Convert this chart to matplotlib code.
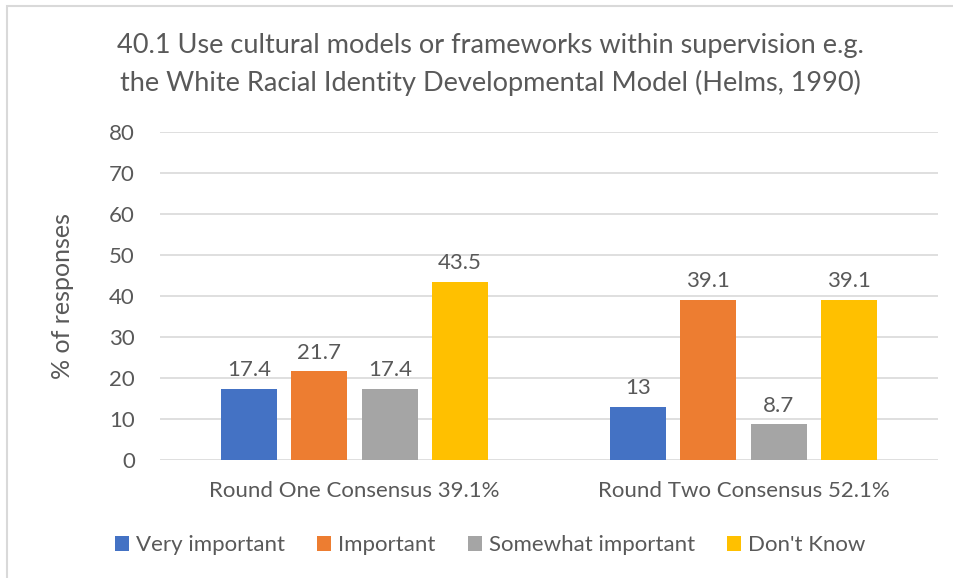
import matplotlib
matplotlib.use("Agg")
import matplotlib.pyplot as plt
from matplotlib.patches import Rectangle, Patch
import numpy as np

plt.rcParams['font.family'] = ['Lato', 'DejaVu Sans']

categories = ["Round One Consensus 39.1%", "Round Two Consensus 52.1%"]
series_names = ["Very important", "Important", "Somewhat important", "Don't Know"]
very_important = [17.4, 13]
important = [21.7, 39.1]
somewhat_important = [17.4, 8.7]
dont_know = [43.5, 39.1]
series_values = [very_important, important, somewhat_important, dont_know]
colors = ["#4472C4", "#ED7D31", "#A5A5A5", "#FFC000"]
yticks = [0, 10, 20, 30, 40, 50, 60, 70, 80]

text_color = "#595959"
W, H = 954, 578
fig = plt.figure(figsize=(W / 100, H / 100), dpi=100)

# outer chart border
fig.add_artist(Rectangle((7 / W, -0.1), 1.2, 1 - 6 / H + 0.1, transform=fig.transFigure,
                         fill=False, edgecolor="#D9D9D9", linewidth=1.5))

ax = fig.add_axes([160 / W, 1 - 460 / H, (938 - 160) / W, (460 - 132) / H])
x = np.arange(len(categories))
width = 0.144
step = 0.181
offsets = (np.arange(len(series_names)) - 1.5) * step
for vals, name, col, off in zip(series_values, series_names, colors, offsets):
    bars = ax.bar(x + off, vals, width, color=col, label=name, zorder=3)
    for b, v in zip(bars, vals):
        ax.annotate(f"{v:g}", (b.get_x() + b.get_width() / 2, v), xytext=(0, 6),
                    textcoords="offset points", ha="center", va="bottom",
                    fontsize=16, color=text_color)

ax.set_xlim(-0.5, 1.5)
ax.set_ylim(0, 80)
ax.set_yticks(yticks)
ax.yaxis.grid(True, color="#D9D9D9", linewidth=1.2, zorder=0)
for s in ax.spines.values():
    s.set_visible(False)
ax.tick_params(axis="both", length=0, labelsize=16, labelcolor=text_color)
ax.tick_params(axis="y", pad=18)
ax.tick_params(axis="x", pad=15)
ax.set_xticks(x)
ax.set_xticklabels(categories)
ax.set_ylabel("% of responses", fontsize=18, color=text_color, labelpad=25)

fig.text(490 / W, 1 - 45 / H, "40.1 Use cultural models or frameworks within supervision e.g.",
         ha="center", va="center", fontsize=19.5, color=text_color)
fig.text(490 / W, 1 - 83 / H, "the White Racial Identity Developmental Model (Helms, 1990)",
         ha="center", va="center", fontsize=19.5, color=text_color)

handles = [Patch(facecolor=c, label=n) for c, n in zip(colors, series_names)]
fig.legend(handles=handles, loc="center", bbox_to_anchor=(490 / W, 1 - 545 / H), ncol=4,
           frameon=False, fontsize=16, labelcolor=text_color, handlelength=0.65,
           handleheight=0.65, handletextpad=0.3, columnspacing=1.45)

fig.savefig("out.png", dpi=100)
